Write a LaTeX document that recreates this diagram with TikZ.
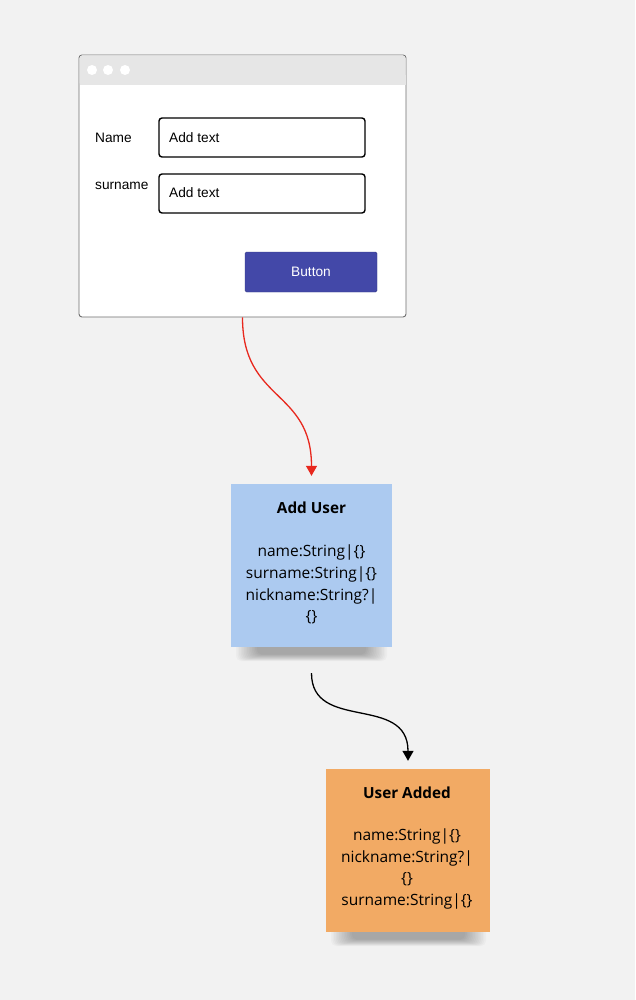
\documentclass[tikz,border=0pt]{standalone}
\usepackage{fontspec}
\setmainfont{Open Sans}
\newfontfamily\arialf{Liberation Sans}
\usetikzlibrary{arrows.meta}
\definecolor{bgc}{HTML}{F2F2F2}
\definecolor{barc}{HTML}{E6E6E6}
\definecolor{winborder}{HTML}{6E6E6E}
\definecolor{btnc}{HTML}{4348A8}
\definecolor{bluenote}{HTML}{ACCAF0}
\definecolor{orangenote}{HTML}{F2AA64}
\definecolor{redarrow}{HTML}{E8281E}
\tikzset{
  window/.style={draw=winborder, line width=0.9pt, fill=white, rounded corners=3pt, minimum width=327pt, minimum height=262pt, inner sep=0pt},
  dot/.style={circle, fill=white, minimum size=10pt, inner sep=0pt},
  lbl/.style={font=\arialf\fontsize{13.7}{16}\selectfont, anchor=west, inner sep=0pt},
  inputbox/.style={draw=black, line width=1.4pt, fill=white, rounded corners=3pt, minimum width=206pt, minimum height=39pt, inner sep=0pt},
  btn/.style={fill=btnc, draw=btnc!80!black, line width=0.4pt, rounded corners=1.5pt, minimum width=132pt, minimum height=40pt, inner sep=0pt, text=white, font=\arialf\fontsize{13.7}{16}\selectfont},
  note/.style={minimum width=161pt, minimum height=163pt, inner sep=0pt},
  notetitle/.style={font=\bfseries\fontsize{15.3}{18}\selectfont, inner sep=0pt},
  notebody/.style={font=\fontsize{15.5}{21.7}\selectfont, align=center, inner sep=0pt},
  conn/.style={line width=1.3pt, -{Triangle[length=10pt,width=11pt]}},
}
\begin{document}
\begin{tikzpicture}[x=1pt,y=-1pt]
\useasboundingbox (0,0) rectangle (635,1000);
\fill[bgc] (0,0) rectangle (635,1000);

% window
\node[window] (win) at (242.5,186) {};
\fill[barc, rounded corners=2.5pt] (79.5,55.5) rectangle (405.5,85);
\fill[barc] (79.5,75) rectangle (405.5,85);
\node[dot] (d1) at (92,70) {};
\node[dot] (d2) at (108,70) {};
\node[dot] (d3) at (125,70) {};

\node[lbl] (lname) at (95,138) {Name};
\node[inputbox] (in1) at (262,137.5) {};
\node[lbl] (t1) at (169,137.5) {Add text};
\node[lbl] (lsurname) at (95,186) {surname};
\node[inputbox] (in2) at (262,193.5) {};
\node[lbl] (t2) at (169,193) {Add text};
\node[btn] (btn) at (311,272) {Button};

% soft shadows under the notes
\foreach \i in {0,...,13}{
  \fill[black, opacity=0.022, rounded corners=5pt] (236+\i*1.6,636) rectangle (387-\i*1.6,661-\i*0.5);
}
\foreach \i in {0,...,13}{
  \fill[black, opacity=0.022, rounded corners=5pt] (331+\i*1.6,921) rectangle (486-\i*1.6,946-\i*0.5);
}

% blue note
\node[note, fill=bluenote] (add) at (311.5,565.5) {};
\node[notetitle] (addt) at (311.5,508) {Add User};
\node[notebody] (addb) at (311.5,584.5) {name:String|\{\}\\surname:String|\{\}\\nickname:String?|\\\{\}};

% orange note
\node[note, fill=orangenote, minimum width=164pt] (ua) at (408,850.5) {};
\node[notetitle] (uat) at (407,793) {User Added};
\node[notebody] (uab) at (407,869) {name:String|\{\}\\nickname:String?|\\\{\}\\surname:String|\{\}};

% connectors
\draw[conn, redarrow, shorten >=8pt] (win.south) .. controls +(0,85) and +(0,-95) .. (add.north);
\draw[conn, black, shorten <=26pt, shorten >=8pt] (add.south) .. controls +(0,85) and +(0,-75) .. (ua.north);
\end{tikzpicture}
\end{document}
